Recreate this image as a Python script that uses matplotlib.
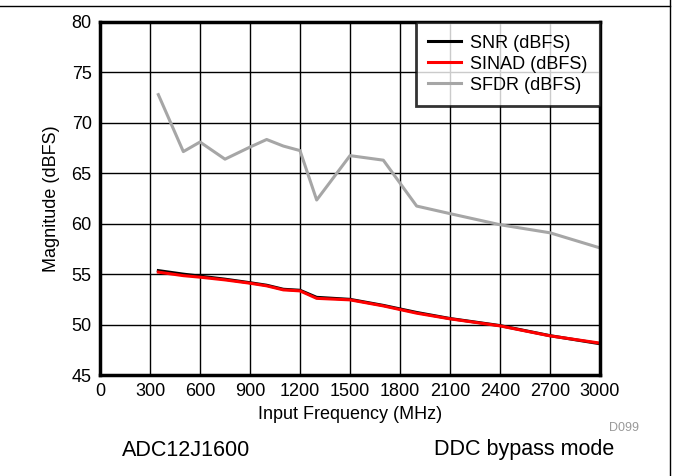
import matplotlib.pyplot as plt
from matplotlib.lines import Line2D

plt.rcParams['font.family'] = ['Liberation Sans', 'DejaVu Sans']

# input frequency (MHz)
freq = [350, 500, 600, 750, 900, 1000, 1100, 1200, 1300, 1500, 1700, 1900, 2100, 2400, 2700, 3000]
snr = [55.35, 55.0, 54.8, 54.5, 54.15, 53.9, 53.5, 53.4, 52.7, 52.5, 51.9, 51.2, 50.6, 49.9, 48.9, 48.1]
sinad = [55.2, 54.85, 54.7, 54.43, 54.1, 53.84, 53.44, 53.34, 52.6, 52.45, 51.85, 51.13, 50.57, 49.87, 48.88, 48.16]
sfdr = [72.8, 67.15, 68.1, 66.4, 67.6, 68.35, 67.7, 67.25, 62.35, 66.75, 66.3, 61.75, 61.0, 59.9, 59.1, 57.6]

xticks = [0, 300, 600, 900, 1200, 1500, 1800, 2100, 2400, 2700, 3000]
yticks = [45, 50, 55, 60, 65, 70, 75, 80]

fig = plt.figure(figsize=(6.77, 4.76), dpi=100)
ax = fig.add_axes([100 / 677, 1 - 375 / 476, 500 / 677, 353 / 476])

ax.plot(freq, snr, color='black', lw=2.2, label='SNR (dBFS)')
ax.plot(freq, sinad, color='#ff0000', lw=2.2, label='SINAD (dBFS)')
ax.plot(freq, sfdr, color='#a6a6a6', lw=2.2, label='SFDR (dBFS)')

ax.set_xlim(0, 3000)
ax.set_ylim(45, 80)
ax.set_xticks(xticks)
ax.set_yticks(yticks)
ax.tick_params(length=0, labelsize=13, pad=6)
ax.grid(True, color='black', lw=1)
ax.set_axisbelow(True)
for s in ax.spines.values():
    s.set_linewidth(2.5)

ax.set_xlabel('Input Frequency (MHz)', fontsize=13, labelpad=4)
ax.set_ylabel('Magnitude (dBFS)', fontsize=13, labelpad=8)

leg = ax.legend(loc='upper right', borderaxespad=0, fontsize=13, frameon=True,
                fancybox=False, handlelength=1.8, labelspacing=0.22,
                borderpad=0.7, handletextpad=0.5)
leg.get_frame().set_edgecolor('black')
leg.get_frame().set_linewidth(2)

fig.text(609 / 677, 1 - 428 / 476, 'D099', fontsize=9, color='#999999', ha='left', va='center')
fig.text(122 / 677, 1 - 450 / 476, 'ADC12J1600', fontsize=15.5, ha='left', va='center')
fig.text(434 / 677, 1 - 450 / 476, 'DDC bypass mode', fontsize=15.5, ha='left', va='center')

# table border around figure
fig.add_artist(Line2D([0, 670 / 677], [1 - 6 / 476, 1 - 6 / 476], color='black', lw=1, transform=fig.transFigure))
fig.add_artist(Line2D([670 / 677, 670 / 677], [0, 1], color='black', lw=1, transform=fig.transFigure))

fig.savefig('out.png', dpi=100)
